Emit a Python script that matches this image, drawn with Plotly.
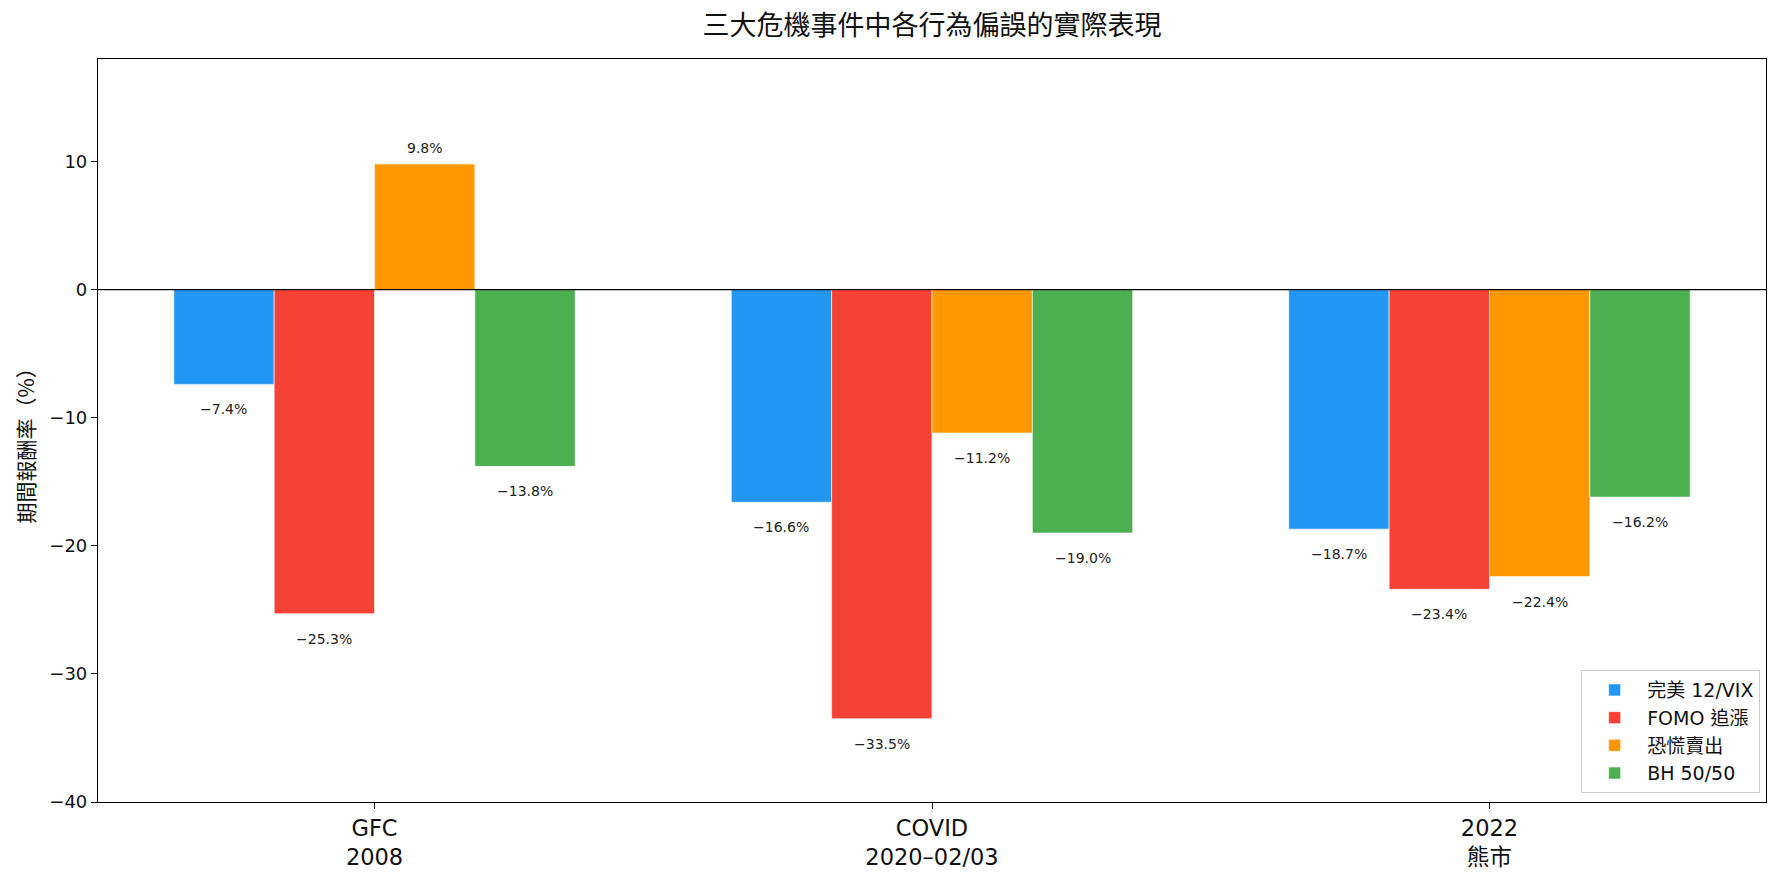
import plotly.graph_objects as go
import numpy as np

categories = ["GFC<br>2008", "COVID<br>2020–02/03", "2022<br>熊市"]
series_names = ["完美 12/VIX", "FOMO 追漲", "恐慌賣出", "BH 50/50"]
perfect_vix = [-7.4, -16.6, -18.7]
fomo = [-25.3, -33.5, -23.4]
panic_sell = [9.8, -11.2, -22.4]
bh_5050 = [-13.8, -19.0, -16.2]
colors = ["#2196F3", "#F44336", "#FF9800", "#4CAF50"]
yticks = [-40, -30, -20, -10, 0, 10]

FONT = "DejaVu Sans, Noto Sans CJK TC, sans-serif"
CJK = "Noto Sans CJK TC, sans-serif"
series = [perfect_vix, fomo, panic_sell, bh_5050]
width = 0.18
base = np.arange(len(categories))

fig = go.Figure()
annotations = []
for j, (name, vals, col) in enumerate(zip(series_names, series, colors)):
    xs = base + (j - 1.5) * width
    fig.add_trace(go.Bar(
        x=xs, y=vals, width=width, name=name,
        marker=dict(color=col, line=dict(color="white", width=0.6)),
    ))
    for x, v in zip(xs, vals):
        txt = f"{v:.1f}%".replace("-", "−")
        annotations.append(dict(
            x=x, y=v, xref="x", yref="y", text=txt, showarrow=False,
            yanchor="bottom" if v > 0 else "top",
            yshift=6 if v > 0 else -15,
            font=dict(family=FONT, size=14, color="#222"),
        ))

annotations.append(dict(
    x=-0.044, y=0.486, xref="paper", yref="paper", text="期間報酬率（%）",
    textangle=-90, showarrow=False, xanchor="center", yanchor="middle",
    font=dict(family=CJK, size=21, color="#111"),
))

fig.add_hline(y=0, line=dict(color="black", width=1.2))

fig.update_layout(
    width=1784, height=883,
    margin=dict(l=98, r=18, t=59, b=81),
    paper_bgcolor="white", plot_bgcolor="white",
    title=dict(text="三大危機事件中各行為偏誤的實際表現", x=0.5, xanchor="center",
               xref="paper", y=0.971, yanchor="middle",
               font=dict(family=CJK, size=27, color="#111")),
    font=dict(family=FONT, color="#111"),
    barmode="overlay",
    showlegend=True,
    legend=dict(x=0.9965, y=0.012, xanchor="right", yanchor="bottom",
                bgcolor="white", bordercolor="#cccccc", borderwidth=1,
                font=dict(family=FONT, size=19, color="#111"),
                tracegroupgap=4, itemwidth=55),
    annotations=annotations,
)
fig.update_xaxes(
    range=[-0.496, 2.496], tickvals=list(base), ticktext=categories,
    showline=True, linecolor="black", linewidth=1.2, mirror=True,
    ticks="outside", ticklen=6, tickcolor="black",
    showgrid=False, zeroline=False,
    tickfont=dict(family=FONT, size=22.5, color="#111"),
)
fig.update_yaxes(
    range=[-40, 18], tickvals=yticks,
    ticktext=[str(t).replace("-", "−") for t in yticks],
    showline=True, linecolor="black", linewidth=1.2, mirror=True,
    ticks="outside", ticklen=6, tickcolor="black",
    showgrid=False, zeroline=False,
    tickfont=dict(family=FONT, size=18, color="#111"),
)

fig.write_html("out.html")
